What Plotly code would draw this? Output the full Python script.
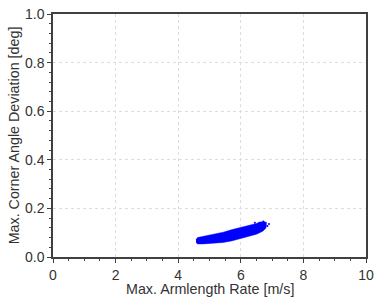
import plotly.graph_objects as go

# Outline of the dense point cloud (bottom edge left->right, then top edge right->left)
cloud_x = [4.57, 4.62, 4.8, 5.1, 5.44, 5.7, 5.97, 6.2, 6.5, 6.7, 6.8, 6.82, 6.78, 6.6, 6.5, 6.3, 5.97, 5.7, 5.44, 5.1, 4.8, 4.62, 4.57]
cloud_y = [0.060, 0.054, 0.054, 0.056, 0.060, 0.066, 0.074, 0.083, 0.094, 0.106, 0.118, 0.133, 0.145, 0.144, 0.138, 0.132, 0.122, 0.112, 0.102, 0.092, 0.084, 0.08, 0.072]
# A few stray points at the ragged right end of the cloud
stray_x = [6.72, 6.8, 6.65, 6.58, 6.85, 6.45, 6.9, 4.6, 4.65]
stray_y = [0.146, 0.14, 0.116, 0.108, 0.128, 0.141, 0.136, 0.068, 0.058]

x_ticks = [0, 2, 4, 6, 8, 10]
y_ticks = [0.0, 0.2, 0.4, 0.6, 0.8, 1.0]
x_title = "Max. Armlength Rate [m/s]"
y_title = "Max. Corner Angle Deviation [deg]"

FONT = "Liberation Sans, Arial"
fig = go.Figure()
fig.add_trace(go.Scatter(x=cloud_x, y=cloud_y, mode="lines", fill="toself",
                         fillcolor="#0000ff", line=dict(color="#0000ff", width=0.5),
                         hoverinfo="skip", showlegend=False))
fig.add_trace(go.Scatter(x=stray_x, y=stray_y, mode="markers",
                         marker=dict(color="#0000ff", size=2), showlegend=False))

axis_common = dict(
    showline=True, linecolor="#404040", linewidth=1.5, mirror=True,
    ticks="outside", ticklen=4, tickwidth=1.2, tickcolor="#404040",
    showgrid=True, gridcolor="#dddddd", griddash="3px,3px", gridwidth=1,
    zeroline=False, automargin=False, ticklabeloverflow="allow",
    tickfont=dict(family=FONT, size=14, color="#333333"),
)
fig.update_xaxes(range=[0, 10], tickvals=x_ticks, ticktext=[str(v) for v in x_ticks],
                 minor=dict(dtick=0.5, ticks="outside", ticklen=2.5, tickcolor="#404040", showgrid=False),
                 **axis_common)
fig.update_yaxes(range=[0, 1.0], tickvals=y_ticks, ticktext=[f"{v:.1f}" for v in y_ticks],
                 minor=dict(dtick=0.04, ticks="outside", ticklen=2.5, tickcolor="#404040", showgrid=False),
                 title=dict(text=y_title, font=dict(family=FONT, size=14.3, color="#333333"), standoff=2),
                 **axis_common)
fig.add_annotation(text=x_title, xref="paper", yref="paper", x=0.5, y=-0.131,
                   xanchor="center", yanchor="middle", showarrow=False,
                   font=dict(family=FONT, size=14.3, color="#333333"))
fig.update_layout(width=382, height=303, margin=dict(l=53, r=16, t=14, b=46),
                  plot_bgcolor="white", paper_bgcolor="white")
fig.write_html("out.html", config={"displayModeBar": False},
               post_script="document.body.style.margin='0';")
